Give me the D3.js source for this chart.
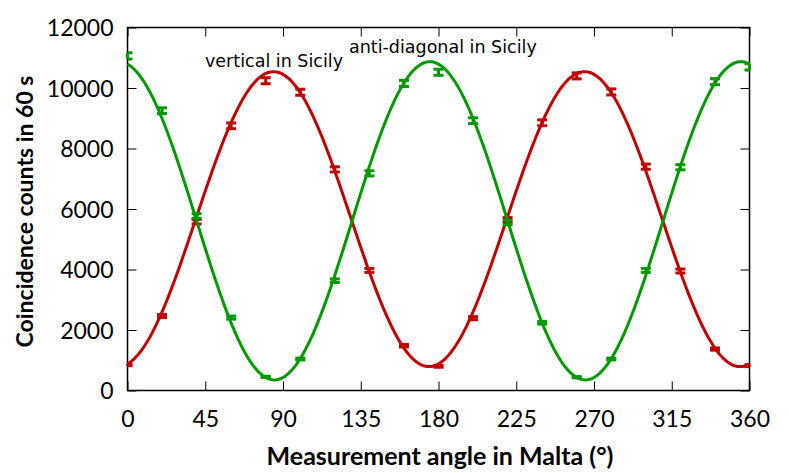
<!DOCTYPE html>
<html lang="en">
<head>
<meta charset="utf-8">
<style>
body { margin: 0; background: #fff; }
svg { display: block; }
.tick text { font-family: Lato, sans-serif; font-size: 23px; fill: #000; }
.axis-title { font-family: Lato, sans-serif; font-weight: bold; }
.label { font-family: "DejaVu Sans", sans-serif; font-size: 17.5px; }
</style>
</head>
<body>
<svg width="789" height="473"></svg>
<script src="https://d3js.org/d3.v7.min.js"></script>
<script>

// measurement angles in Malta (degrees)
var angles = [0, 20, 40, 60, 80, 100, 120, 140, 160, 180, 200, 220, 240, 260, 280, 300, 320, 340, 360];

// vertical in Sicily (red)
var vertical = [850, 2460, 5580, 8750, 10240, 9860, 7310, 3970, 1480, 800, 2390, 5640, 8850, 10400, 9870, 7400, 3950, 1370, 820];
var verticalErr = [30, 50, 75, 95, 100, 100, 85, 65, 40, 30, 50, 75, 95, 100, 100, 85, 65, 35, 30];

// anti-diagonal in Sicily (green)
var antidiag = [11060, 9250, 5770, 2410, 450, 1040, 3630, 7180, 10150, 10520, 8920, 5550, 2240, 440, 1040, 3970, 7380, 10210, 10700];
var antidiagErr = [105, 95, 75, 50, 20, 30, 60, 85, 100, 100, 95, 75, 45, 20, 30, 65, 85, 100, 105];

// fitted cosine curves: [offset, amplitude, angle of maximum, period]
var verticalFit = [5665, 4875, 84.5, 180];
var antidiagFit = [5610, 5260, 175, 180];

var xTicks = [0, 45, 90, 135, 180, 225, 270, 315, 360];
var yTicks = [0, 2000, 4000, 6000, 8000, 10000, 12000];

var svg = d3.select("svg");
var mLeft = 127.5, mRight = 749.5, mTop = 27.5, mBottom = 390.5;

var x = d3.scaleLinear().domain([0, 360]).range([mLeft, mRight]);
var y = d3.scaleLinear().domain([0, 12000]).range([mBottom, mTop]);

// axes (gnuplot style, ticks inward and mirrored)
var xAxis = svg.append("g")
    .attr("transform", "translate(0," + mBottom + ")")
    .call(d3.axisBottom(x).tickValues(xTicks).tickSizeInner(-9).tickSizeOuter(0));
svg.append("g")
    .attr("transform", "translate(0," + mTop + ")")
    .call(d3.axisTop(x).tickValues(xTicks).tickSizeInner(-9).tickSizeOuter(0).tickFormat(""));
var yAxis = svg.append("g")
    .attr("transform", "translate(" + mLeft + ",0)")
    .call(d3.axisLeft(y).tickValues(yTicks).tickFormat(d3.format("d"))
      .tickSizeInner(-9).tickSizeOuter(0).tickPadding(14));
svg.append("g")
    .attr("transform", "translate(" + mRight + ",0)")
    .call(d3.axisRight(y).tickValues(yTicks).tickSizeInner(-9).tickSizeOuter(0).tickFormat(""));

svg.selectAll(".domain").remove();
svg.selectAll(".tick line").attr("stroke", "#000").attr("stroke-width", 1);
xAxis.selectAll(".tick text").attr("dy", null).attr("y", 36.5);
yAxis.selectAll(".tick text").attr("dy", "0.36em");

svg.append("rect")
    .attr("x", mLeft).attr("y", mTop)
    .attr("width", mRight - mLeft).attr("height", mBottom - mTop)
    .attr("fill", "none").attr("stroke", "#000").attr("stroke-width", 1.5);

function fitCurve(p) {
  var pts = d3.range(0, 360.5, 1).map(function(a) {
    return [a, p[0] + p[1] * Math.cos(2 * Math.PI * (a - p[2]) / p[3])];
  });
  return d3.line()
      .x(function(d) { return x(d[0]); })
      .y(function(d) { return y(d[1]); })(pts);
}

function drawSeries(vals, errs, fit, color) {
  var g = svg.append("g");
  g.append("path")
      .attr("d", fitCurve(fit))
      .attr("fill", "none")
      .attr("stroke", color)
      .attr("stroke-width", 3);

  var bars = g.selectAll("g.err")
    .data(angles.map(function(a, i) { return {a: a, v: vals[i], e: errs[i]}; }))
    .enter().append("g");

  bars.append("line")
      .attr("x1", function(d) { return x(d.a); })
      .attr("x2", function(d) { return x(d.a); })
      .attr("y1", function(d) { return y(d.v - d.e); })
      .attr("y2", function(d) { return y(d.v + d.e); })
      .attr("stroke", color).attr("stroke-width", 3);

  [-1, 1].forEach(function(s) {
    bars.append("line")
        .attr("x1", function(d) { return Math.max(mLeft, x(d.a) - 5); })
        .attr("x2", function(d) { return Math.min(mRight, x(d.a) + 5); })
        .attr("y1", function(d) { return y(d.v + s * d.e); })
        .attr("y2", function(d) { return y(d.v + s * d.e); })
        .attr("stroke", color).attr("stroke-width", 3);
  });
}

drawSeries(vertical, verticalErr, verticalFit, "#c00000");
drawSeries(antidiag, antidiagErr, antidiagFit, "#009a00");

svg.append("text").attr("class", "label")
    .attr("x", 205).attr("y", 67)
    .text("vertical in Sicily");
svg.append("text").attr("class", "label")
    .attr("x", 349).attr("y", 53)
    .text("anti-diagonal in Sicily");

svg.append("text").attr("class", "axis-title")
    .attr("text-anchor", "middle")
    .attr("font-size", 25)
    .attr("x", 440).attr("y", 465)
    .text("Measurement angle in Malta (°)");
svg.append("text").attr("class", "axis-title")
    .attr("text-anchor", "middle")
    .attr("font-size", 23)
    .attr("transform", "translate(33,211.5) rotate(-90)")
    .text("Coincidence counts in 60 s");

</script>
</body>
</html>
